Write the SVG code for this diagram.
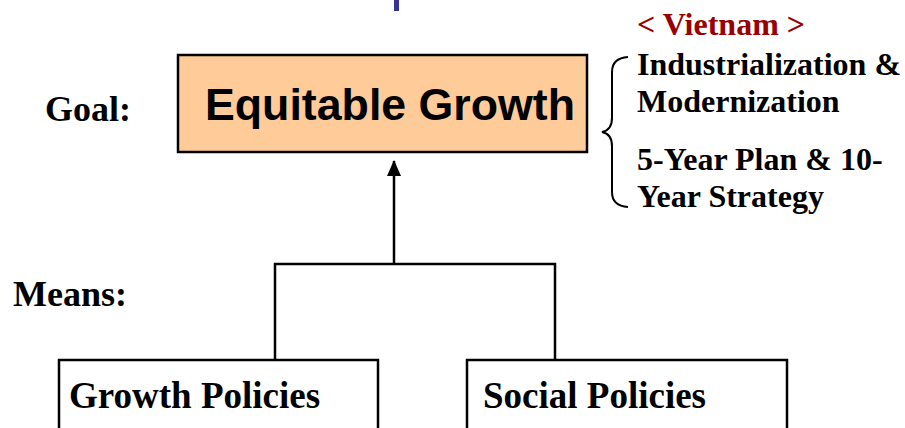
<svg xmlns="http://www.w3.org/2000/svg" width="905" height="428" viewBox="0 0 905 428">
<style>
.lbl{font-family:"Liberation Serif","Times New Roman",serif;font-weight:bold;fill:#000}
.note{font-family:"Liberation Serif","Times New Roman",serif;font-weight:bold;font-size:32px;fill:#000}
.box{fill:#fff;stroke:#000;stroke-width:2.5}
.conn{fill:none;stroke:#000;stroke-width:2.5}
</style>
<defs>
<marker id="arr" markerWidth="16" markerHeight="14" refX="15" refY="7" orient="auto" markerUnits="userSpaceOnUse" viewBox="0 0 16 14">
<path d="M0,0 L16,7 L0,14 Z" fill="#000"/>
</marker>
</defs>
<rect width="905" height="428" fill="#fff"/>
<rect x="394" y="0" width="5" height="11" fill="#333399"/>
<text class="lbl" x="45" y="121" font-size="36">Goal:</text>
<text class="lbl" x="13" y="306" font-size="36">Means:</text>
<g id="goal">
<rect x="178" y="55" width="409" height="97" fill="#FFCC99" stroke="#000" stroke-width="2.5"/>
<text x="205" y="120" font-family="'Liberation Sans',Arial,sans-serif" font-weight="bold" font-size="44" textLength="370" lengthAdjust="spacingAndGlyphs">Equitable Growth</text>
</g>
<g id="vietnam">
<text class="note" x="637" y="35" style="fill:#990000">&lt; Vietnam &gt;</text>
<path d="M628,57 Q612,58 612,72 L612,118 Q612,130 602,132 Q612,134 612,146 L612,192 Q612,206 628,207" fill="none" stroke="#000" stroke-width="2"/>
<text class="note" x="637" y="75">Industrialization &amp;</text>
<text class="note" x="637" y="112">Modernization</text>
<text class="note" x="637" y="170">5-Year Plan &amp; 10-</text>
<text class="note" x="637" y="207">Year Strategy</text>
</g>
<g id="connectors">
<line class="conn" x1="394" y1="264" x2="394" y2="161" marker-end="url(#arr)"/>
<polyline class="conn" points="275,360 275,264 555,264 555,360"/>
</g>
<g id="growth">
<rect class="box" x="59" y="360" width="319" height="80"/>
<text class="lbl" x="69" y="408" font-size="37">Growth Policies</text>
</g>
<g id="social">
<rect class="box" x="467" y="360" width="320" height="80"/>
<text class="lbl" x="483" y="408" font-size="37">Social Policies</text>
</g>
</svg>
